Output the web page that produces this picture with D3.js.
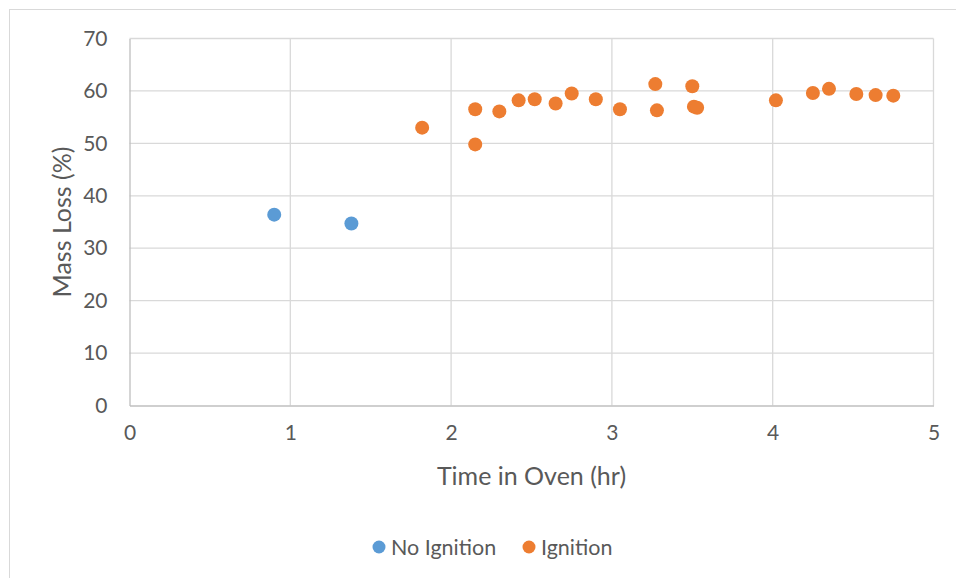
<!DOCTYPE html>
<html>
<head>
<meta charset="utf-8">
<script src="https://cdn.jsdelivr.net/npm/d3@7"></script>
<style>
  html, body { margin: 0; padding: 0; background: #fff; }
  svg text { font-family: Lato, "Liberation Sans", sans-serif; fill: #595959; }
</style>
</head>
<body>
<svg id="chart" width="956" height="578"></svg>
<script>
// Data
const noIgnitionTime = [0.90, 1.38];
const noIgnitionLoss = [36.4, 34.7];

const ignitionTime = [1.82, 2.15, 2.15, 2.30, 2.42, 2.52, 2.65, 2.75, 2.90, 3.05, 3.27, 3.28, 3.50, 3.51, 3.53, 4.02, 4.25, 4.35, 4.52, 4.64, 4.75];
const ignitionLoss = [53.0, 56.5, 49.8, 56.1, 58.2, 58.4, 57.6, 59.5, 58.4, 56.5, 61.3, 56.3, 60.9, 57.0, 56.8, 58.2, 59.6, 60.4, 59.4, 59.2, 59.1];

const xTicks = [0, 1, 2, 3, 4, 5];
const yTicks = [0, 10, 20, 30, 40, 50, 60, 70];

const seriesNames = ["No Ignition", "Ignition"];
const seriesColors = ["#5B9BD5", "#ED7D31"];

const svg = d3.select("#chart");

// outer chart border
svg.append("rect")
  .attr("x", 9.5).attr("y", 9.5)
  .attr("width", 960).attr("height", 600)
  .attr("fill", "none").attr("stroke", "#d9d9d9").attr("stroke-width", 1);

const plot = { left: 129.5, right: 933.5, top: 38.5, bottom: 405.5 };

const x = d3.scaleLinear().domain([0, 5]).range([plot.left, plot.right]);
const y = d3.scaleLinear().domain([0, 70]).range([plot.bottom, plot.top]);

// gridlines
const grid = svg.append("g");
grid.selectAll("line.v").data(xTicks.slice(1)).enter().append("line")
  .attr("x1", d => x(d)).attr("x2", d => x(d))
  .attr("y1", plot.top).attr("y2", plot.bottom)
  .attr("stroke", "#d9d9d9").attr("stroke-width", 1.3);
grid.selectAll("line.h").data(yTicks.slice(1)).enter().append("line")
  .attr("x1", plot.left).attr("x2", plot.right)
  .attr("y1", d => y(d)).attr("y2", d => y(d))
  .attr("stroke", "#d9d9d9").attr("stroke-width", 1.3);

// axes
const xAxis = d3.axisBottom(x).tickValues(xTicks).tickSize(0).tickPadding(20).tickFormat(d3.format("d"));
const yAxis = d3.axisLeft(y).tickValues(yTicks).tickSize(0).tickPadding(22).tickFormat(d3.format("d"));

const gx = svg.append("g").attr("transform", `translate(0,${plot.bottom})`).call(xAxis);
const gy = svg.append("g").attr("transform", `translate(${plot.left},0)`).call(yAxis);
[gx, gy].forEach(g => {
  g.select(".domain").attr("stroke", "#bfbfbf").attr("stroke-width", 1.3);
  g.selectAll("text").style("font-size", "21px").attr("fill", "#595959");
});
gx.selectAll("text").attr("dy", "0.71em");

// axis titles
svg.append("text")
  .attr("x", (plot.left + plot.right) / 2).attr("y", 485)
  .attr("text-anchor", "middle").style("font-size", "25px")
  .text("Time in Oven (hr)");
svg.append("text")
  .attr("transform", `translate(71,${(plot.top + plot.bottom) / 2}) rotate(-90)`)
  .attr("text-anchor", "middle").style("font-size", "25px")
  .text("Mass Loss (%)");

// points
const series = [
  noIgnitionTime.map((t, i) => ({ t, v: noIgnitionLoss[i] })),
  ignitionTime.map((t, i) => ({ t, v: ignitionLoss[i] }))
];
series.forEach((pts, si) => {
  svg.append("g").selectAll("circle").data(pts).enter().append("circle")
    .attr("cx", d => x(d.t)).attr("cy", d => y(d.v))
    .attr("r", 7).attr("fill", seriesColors[si]);
});

// legend
const legend = svg.append("g");
const legendX = [379, 529];
seriesNames.forEach((name, i) => {
  legend.append("circle").attr("cx", legendX[i]).attr("cy", 547).attr("r", 6.5).attr("fill", seriesColors[i]);
  legend.append("text").attr("x", legendX[i] + 12).attr("y", 547).attr("dy", "0.35em")
    .style("font-size", "21.5px").text(name);
});
</script>
</body>
</html>
